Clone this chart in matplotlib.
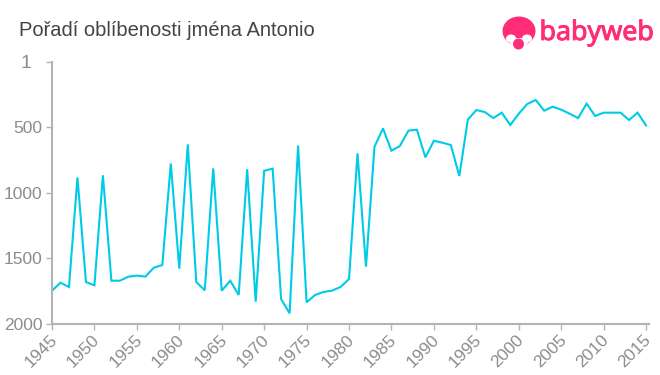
import numpy as np
import matplotlib
matplotlib.use('Agg')
import matplotlib.pyplot as plt
import matplotlib.patheffects as pe
from matplotlib.patches import Circle, Ellipse
from matplotlib.transforms import ScaledTranslation

plt.rcParams['font.family'] = ['Liberation Sans', 'DejaVu Sans']

years = np.arange(1945, 2016)
ranks = [1748, 1687, 1720, 884, 1682, 1707, 868, 1672, 1672, 1641,
         1633, 1641, 1573, 1552, 777, 1580, 632, 1682, 1745, 815,
         1748, 1672, 1781, 822, 1832, 833, 817, 1812, 1921, 640,
         1837, 1781, 1758, 1748, 1720, 1659, 700, 1565, 650, 510,
         680, 644, 527, 520, 731, 604, 619, 637, 873, 443,
         370, 385, 431, 390, 484, 398, 324, 293, 375, 344,
         367, 398, 431, 321, 415, 390, 390, 390, 446, 390,
         487]
x_ticks = np.arange(1945, 2016, 5)
y_ticks = [1, 500, 1000, 1500, 2000]
title = 'Pořadí oblíbenosti jména Antonio'
logo_text = 'babyweb'

W, H = 660, 375
line_color = '#00cbe6'
axis_color = '#b3b3b3'
label_color = '#8c8c8c'
pink = '#ff2d78'

fig = plt.figure(figsize=(W / 100, H / 100), dpi=100)
ax = fig.add_axes([52 / W, 1 - 323.7 / H, (649 - 52) / W, (323.7 - 61.7) / H])

ax.plot(years, ranks, color=line_color, lw=1.5, solid_joinstyle='miter')
ax.set_xlim(1945, 2015.35)
ax.set_ylim(2000, 1)

ax.spines['top'].set_visible(False)
ax.spines['right'].set_visible(False)
ax.spines['left'].set_color(axis_color)
ax.spines['bottom'].set_color(axis_color)
ax.spines['left'].set_linewidth(1.5)
ax.spines['bottom'].set_linewidth(1.5)

ax.set_xticks(x_ticks)
ax.set_yticks(y_ticks)
ax.tick_params(axis='both', color=axis_color, width=1, length=4, labelcolor=label_color, labelsize=12.5, pad=3)
# move the rotated year labels a little left and up
shift = ScaledTranslation(-2.5 / 100, 1.5 / 100, fig.dpi_scale_trans)
for lab in ax.get_xticklabels():
    lab.set_rotation(45)
    lab.set_ha('right')
    lab.set_rotation_mode('anchor')
    lab.set_transform(lab.get_transform() + shift)
ax.yaxis.get_major_ticks()[0].set_pad(11)
ax.get_yticklabels()[0].set_fontsize(14)

fig.text(19 / W, 1 - 30 / H, title, fontsize=14.5, color='#444444', va='center', ha='left')

# logo
logo = fig.add_axes([0, 0, 1, 1], facecolor='none')
logo.set_xlim(0, W)
logo.set_ylim(H, 0)
logo.axis('off')
logo.add_patch(Ellipse((519, 31), 33, 29, color=pink, lw=0))
logo.add_patch(Ellipse((511, 38.5), 10, 8, color='white', lw=0))
logo.add_patch(Ellipse((527, 38.5), 10, 8, color='white', lw=0))
logo.add_patch(Ellipse((519, 42), 18, 8, color='white', lw=0))
logo.add_patch(Circle((518.5, 44), 5.5, color=pink, lw=0))
txt = logo.text(539.5, 33, logo_text, fontsize=19.3, color=pink, family='Noto Sans', va='center', ha='left')
txt.set_path_effects([pe.withStroke(linewidth=0.7, foreground=pink)])

fig.savefig('out.png', dpi=100)
